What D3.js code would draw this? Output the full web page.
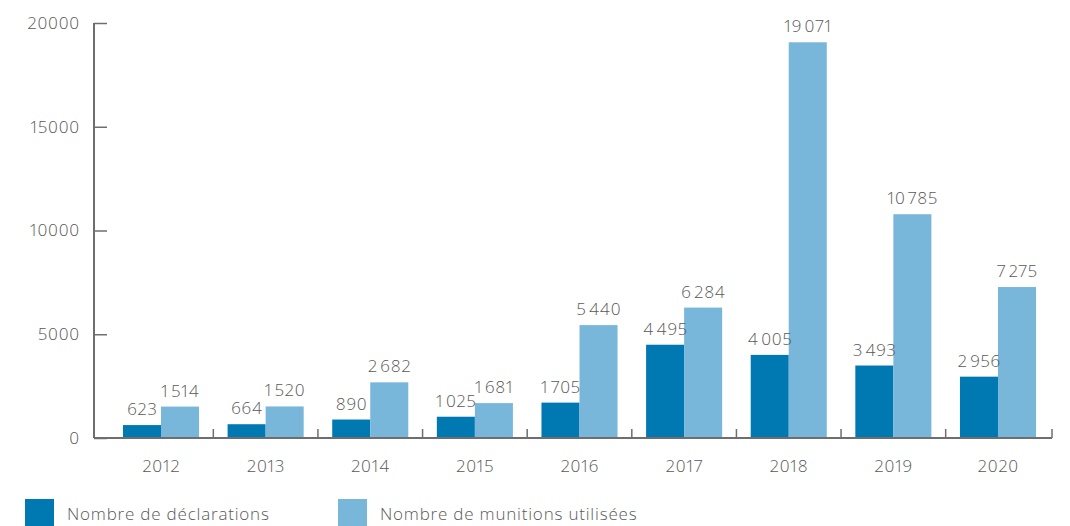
<!DOCTYPE html>
<html>
<head>
<meta charset="utf-8">
<script src="https://cdn.jsdelivr.net/npm/d3@7"></script>
<style>
  html, body { margin: 0; padding: 0; background: #fff; }
  svg { display: block; font-family: "Open Sans", Lato, sans-serif; font-variant-numeric: proportional-nums; }
</style>
</head>
<body>
<svg id="chart" width="1070" height="526"></svg>
<script>
// Years shown on the horizontal axis
const years = ["2012", "2013", "2014", "2015", "2016", "2017", "2018", "2019", "2020"];
// Number of declarations per year
const declarations = [623, 664, 890, 1025, 1705, 4495, 4005, 3493, 2956];
// Number of munitions used per year
const munitions = [1514, 1520, 2682, 1681, 5440, 6284, 19071, 10785, 7275];
// Vertical axis ticks
const yTicks = [0, 5000, 10000, 15000, 20000];
// Series names and colours
const seriesNames = ["Nombre de déclarations", "Nombre de munitions utilisées"];
const seriesColors = ["#0078b1", "#78b6da"];

const series = [declarations, munitions];

const svg = d3.select("#chart");
const textColor = "#595959";
const axisColor = "#6e6e6e";
const fontSize = "17px";
const fontWeight = 300;
const tracking = "0.8px";

function styleText(sel) {
  return sel.attr("fill", textColor)
    .style("font-size", fontSize).style("font-weight", fontWeight)
    .style("letter-spacing", tracking);
}

const y = d3.scaleLinear().domain([0, 20000]).range([438, 23]);
const x = d3.scaleBand().domain(years).range([108.7, 1050.3]).paddingInner(0.273).paddingOuter(0.1365);
const xInner = d3.scaleBand().domain(d3.range(series.length)).range([0, x.bandwidth()]);

// French-style grouping with a hair space between thousands
const fmt = d3.formatLocale({ decimal: ",", thousands: "\u200A", grouping: [3], currency: ["", "€"] }).format(",d");

// Y axis
const yAxis = svg.append("g").attr("transform", "translate(94,0)")
  .call(d3.axisRight(y).tickValues(yTicks).tickSize(13).tickFormat(""));
yAxis.select(".domain").remove();
yAxis.selectAll(".tick line").attr("stroke", axisColor).attr("stroke-width", 1.5);
svg.append("line").attr("x1", 94).attr("x2", 94).attr("y1", y(20000)).attr("y2", y(0))
  .attr("stroke", axisColor).attr("stroke-width", 2);
svg.append("g").selectAll("text").data(yTicks).join("text")
  .attr("x", 80).attr("y", d => y(d)).attr("dy", "0.35em")
  .attr("text-anchor", "end")
  .call(styleText)
  .text(d => d);

// Bars
const groups = svg.append("g").selectAll("g").data(years).join("g")
  .attr("transform", d => `translate(${x(d)},0)`);
groups.selectAll("rect").data((d, i) => series.map((s, k) => ({ k, v: s[i] }))).join("rect")
  .attr("x", d => xInner(d.k)).attr("width", xInner.bandwidth())
  .attr("y", d => y(d.v)).attr("height", d => y(0) - y(d.v))
  .attr("fill", d => seriesColors[d.k]);
groups.selectAll("text").data((d, i) => series.map((s, k) => ({ k, v: s[i] }))).join("text")
  .attr("x", d => xInner(d.k) + xInner.bandwidth() / 2 + 0.4)
  .attr("y", d => y(d.v) - 10)
  .attr("text-anchor", "middle")
  .call(styleText)
  .text(d => fmt(d.v));

// X axis
const step = x.step();
const boundaries = years.slice(1).map(d => x(d) - step * x.paddingInner() / 2).concat([1052]);
svg.append("g").selectAll("line").data(boundaries).join("line")
  .attr("x1", d => d).attr("x2", d => d).attr("y1", y(0)).attr("y2", y(0) - 9)
  .attr("stroke", axisColor).attr("stroke-width", 1.5);
svg.append("line").attr("x1", 94).attr("x2", 1052).attr("y1", y(0)).attr("y2", y(0))
  .attr("stroke", axisColor).attr("stroke-width", 2);
svg.append("g").selectAll("text").data(years).join("text")
  .attr("x", d => x(d) + x.bandwidth() / 2 + 0.4).attr("y", 472)
  .attr("text-anchor", "middle")
  .call(styleText)
  .text(d => d);

// Legend
const legendX = [25, 338];
const legend = svg.append("g").selectAll("g").data(seriesNames).join("g")
  .attr("transform", (d, i) => `translate(${legendX[i]},499)`);
legend.append("rect").attr("width", 29).attr("height", 30).attr("fill", (d, i) => seriesColors[i]);
legend.append("text").attr("x", 42).attr("y", 21)
  .call(styleText)
  .text(d => d);
</script>
</body>
</html>
